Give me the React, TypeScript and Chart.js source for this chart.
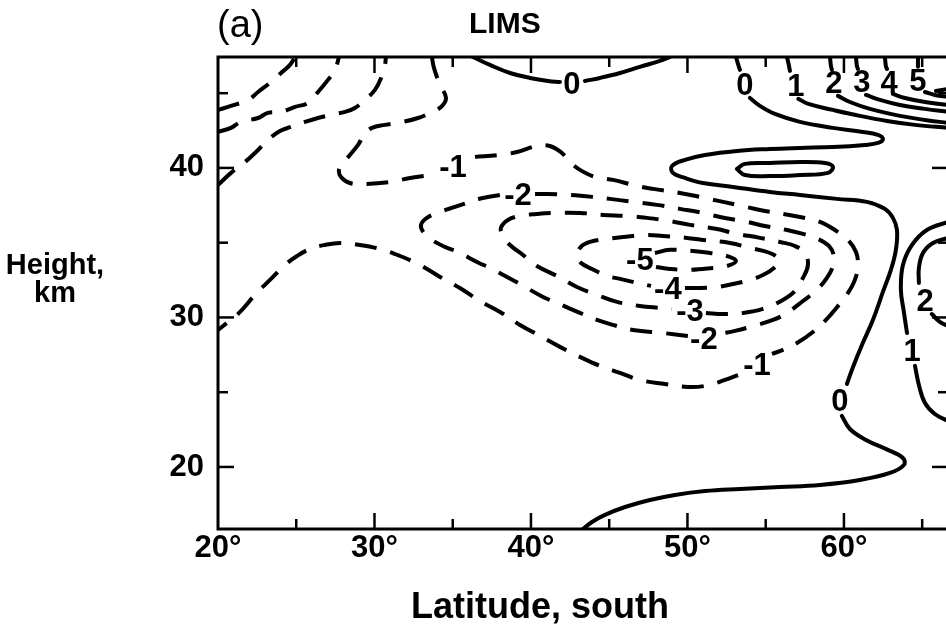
import React, { useEffect, useRef } from "react";
import { Chart, registerables } from "chart.js";

Chart.register(...registerables);

type Pt = [number, number];

const FONT = '"Liberation Sans", Arial, Helvetica, sans-serif';

// Axis extents: latitude (°S) and height (km)
const LAT_MIN = 20;
const LAT_MAX = 66.65;
const KM_MIN = 15.85;
const KM_MAX = 47.42;

const LAT_TICKS = [20, 30, 40, 50, 60];
const LAT_MINOR = [25, 35, 45, 55, 65];
const KM_TICKS = [20, 30, 40];
const KM_MINOR = [25, 35, 45];

// ---- negative isopleths (dashed) ----
const negUpperA: Pt[] = [[20.0, 43.88], [20.83, 44.15], [21.92, 44.55], [22.56, 45.08], [23.39, 45.75], [24.03, 46.35], [24.6, 46.89], [24.92, 47.42]];
const negUpperB: Pt[] = [[20.0, 42.41], [20.83, 42.68], [21.47, 43.08], [22.56, 43.34], [23.19, 43.68], [24.03, 43.75], [24.92, 44.08], [25.75, 44.35], [26.39, 45.08], [27.03, 45.89], [27.48, 46.56], [27.73, 47.42]];
const negUpperC: Pt[] = [[20.0, 38.86], [20.83, 39.67], [21.73, 40.4], [22.56, 41.2], [23.19, 41.87], [23.96, 42.47], [24.66, 42.74], [25.56, 43.08], [26.39, 43.34], [27.22, 43.55], [28.12, 43.75], [28.75, 44.01], [29.39, 44.55], [30.03, 45.22], [30.42, 46.02], [30.67, 46.89], [30.73, 47.42]];

const minus1Top: Pt[] = [[33.67, 47.42], [33.8, 46.69], [34.19, 45.55], [34.57, 44.68], [34.25, 44.08], [33.55, 43.68], [32.78, 43.34], [31.82, 43.08], [30.67, 42.88], [29.84, 42.68], [29.33, 42.21], [28.95, 41.54], [28.43, 40.87], [27.99, 40.33], [27.73, 39.87], [27.86, 39.4], [28.43, 38.99], [29.39, 38.93], [30.99, 39.06], [32.27, 39.33], [33.67, 39.53]];
const minus1Mid: Pt[] = [[36.42, 40.74], [38.02, 40.87], [39.11, 41.07], [40.38, 41.47], [41.21, 41.47], [41.98, 41.0], [42.49, 40.4], [43.13, 39.87], [44.09, 39.4], [45.24, 39.2], [46.77, 38.8], [47.8, 38.6], [49.52, 38.33], [50.8, 38.06], [53.16, 37.53], [54.63, 37.19], [57.19, 36.72], [58.47, 36.39], [59.42, 35.85], [60.26, 35.18], [60.77, 34.38], [60.89, 33.44], [60.7, 32.51], [60.26, 31.64], [59.62, 30.77], [58.85, 29.83], [58.02, 29.03], [57.0, 28.29], [56.1, 27.83], [55.4, 27.56]];
const minus1Low: Pt[] = [[53.23, 26.15], [52.4, 25.82], [51.12, 25.42], [50.03, 25.35], [48.56, 25.55], [46.96, 25.82], [45.69, 26.29], [44.41, 26.76], [43.13, 27.36], [41.85, 28.03], [40.58, 28.76], [39.3, 29.5], [38.02, 30.37], [36.74, 31.1], [35.46, 31.97], [34.19, 32.71], [32.91, 33.51], [31.63, 34.11], [30.35, 34.58], [29.07, 34.85], [27.8, 34.98], [26.84, 34.85], [25.88, 34.58], [25.05, 34.11], [24.28, 33.51], [23.32, 32.51], [22.36, 31.51], [21.41, 30.37], [20.64, 29.7], [20.0, 29.16]];

const minus2East: Pt[] = [[40.26, 38.26], [41.02, 38.26], [42.49, 38.19], [43.96, 38.06], [45.05, 37.93], [46.52, 37.73], [48.05, 37.53], [49.52, 37.26], [50.99, 36.99], [52.08, 36.72], [53.8, 36.39], [54.95, 36.12], [56.36, 35.85], [57.38, 35.59], [58.34, 35.25], [59.04, 34.78], [59.36, 34.11], [59.3, 33.44], [58.91, 32.64], [58.27, 31.84], [57.38, 31.1], [56.36, 30.3], [55.46, 29.83], [53.99, 29.36], [53.04, 29.1], [52.08, 28.9]];
const minus2West: Pt[] = [[50.03, 28.76], [48.43, 28.96], [46.52, 29.16], [45.24, 29.5], [44.22, 29.83], [43.13, 30.3], [41.66, 30.97], [40.77, 31.37], [39.3, 32.24], [38.47, 32.71], [37.38, 33.31], [36.55, 33.71], [35.34, 34.38], [34.5, 34.72], [33.67, 35.18], [33.16, 35.65], [32.97, 36.19], [33.35, 36.66], [34.19, 37.06], [35.14, 37.39], [36.1, 37.73], [36.93, 37.99], [38.02, 38.19]];

const minus3Ring: Pt[] = [[51.18, 30.3], [52.27, 30.23], [53.55, 30.3], [54.82, 30.57], [56.1, 31.17], [56.87, 31.77], [57.38, 32.64], [57.7, 33.51], [57.51, 34.31], [56.87, 34.78], [55.91, 35.05], [54.63, 35.32], [52.91, 35.65], [51.89, 35.92], [50.16, 36.19], [48.88, 36.45], [47.41, 36.66], [46.13, 36.79], [44.6, 36.86], [43.13, 36.99], [41.41, 36.99], [40.38, 36.92], [39.3, 36.79], [38.53, 36.52], [38.08, 35.99], [38.21, 35.45], [38.66, 34.85], [39.49, 34.18], [40.38, 33.44], [41.66, 32.78], [42.94, 32.04], [44.22, 31.51], [45.5, 31.04], [46.96, 30.77], [48.24, 30.64], [49.01, 30.57]];
const minus4Ring: Pt[] = [[49.84, 31.97], [50.8, 31.97], [51.89, 32.04], [52.91, 32.24], [53.99, 32.51], [54.82, 32.84], [55.53, 33.31], [55.85, 33.85], [55.27, 34.31], [53.99, 34.65], [52.72, 34.98], [50.99, 35.18], [49.97, 35.32], [48.43, 35.45], [47.41, 35.52], [45.88, 35.38], [44.86, 35.25], [43.77, 35.05], [43.19, 34.72], [42.94, 34.11], [43.19, 33.65], [43.9, 33.24], [44.86, 32.78], [45.69, 32.58], [46.77, 32.31], [47.67, 32.11]];
const minus5Ring: Pt[] = [[47.92, 34.31], [48.88, 34.52], [50.35, 34.45], [51.44, 34.31], [52.52, 34.11], [53.1, 33.78], [52.52, 33.44], [51.63, 33.31], [50.16, 33.18], [48.88, 33.24], [47.99, 33.38]];

// ---- zero and positive isopleths (solid) ----
const zeroArcWest: Pt[] = [[36.29, 47.42], [37.38, 46.89], [38.66, 46.35], [39.94, 46.02], [41.09, 45.82], [41.85, 45.75]];
const zeroArcEast: Pt[] = [[43.45, 45.82], [44.41, 46.02], [45.69, 46.35], [46.96, 46.76], [48.24, 47.16], [48.88, 47.42]];

const zeroMainTop: Pt[] = [[53.1, 47.42], [53.23, 46.96], [53.35, 46.56]];
const zeroMainMid: Pt[] = [[53.99, 44.68], [54.63, 44.15], [55.59, 43.61], [57.19, 43.08], [59.3, 42.68], [61.21, 42.41], [62.17, 42.21], [62.49, 41.94], [62.17, 41.67], [61.34, 41.54], [59.3, 41.4], [57.19, 41.34], [55.27, 41.27], [53.16, 41.14], [51.12, 40.87], [49.84, 40.54], [49.01, 40.13], [49.07, 39.67], [49.84, 39.33], [50.99, 38.99], [52.91, 38.73], [55.27, 38.39], [57.19, 38.19], [59.55, 37.93], [61.47, 37.73], [62.62, 37.26], [63.13, 36.66], [63.39, 35.85], [63.32, 34.52], [63.0, 33.18], [62.49, 31.71], [61.85, 29.83], [61.15, 28.16], [60.58, 26.69], [60.19, 25.55]];
const zeroMainLow: Pt[] = [[59.87, 23.41], [60.38, 22.54], [61.41, 21.81], [62.81, 21.14], [63.77, 20.6], [63.83, 20.13], [62.94, 19.6], [61.02, 19.13], [58.47, 18.8], [55.91, 18.66], [53.35, 18.53], [51.12, 18.39], [49.2, 18.13], [47.6, 17.79], [46.01, 17.32], [44.73, 16.79], [43.9, 16.32], [43.26, 15.79]];

const zeroLoop: Pt[] = [[53.16, 39.93], [53.67, 40.27], [55.27, 40.33], [57.19, 40.4], [58.79, 40.33], [59.3, 40.07], [58.98, 39.67], [57.19, 39.53], [55.27, 39.46], [53.67, 39.53], [53.16, 39.93]];

const plus1Top: Pt[] = [[56.36, 47.42], [56.49, 46.82], [56.55, 46.49]];
const plus1Run: Pt[] = [[57.09, 44.62], [57.73, 44.28], [59.3, 43.88], [61.02, 43.48], [62.75, 43.14], [64.54, 42.88], [66.65, 42.68]];
const plus2Top: Pt[] = [[59.11, 47.42], [59.17, 46.82], [59.23, 46.56]];
const plus2Run: Pt[] = [[59.62, 44.82], [60.38, 44.41], [61.66, 43.95], [63.58, 43.48], [65.18, 43.21], [66.65, 43.01]];
const plus3Top: Pt[] = [[60.77, 47.42], [60.83, 46.82], [60.89, 46.62]];
const plus3Run: Pt[] = [[61.41, 44.88], [62.3, 44.55], [63.58, 44.21], [65.18, 43.95], [66.65, 43.75]];
const plus4Top: Pt[] = [[62.62, 47.42], [62.68, 46.82], [62.75, 46.62]];
const plus4Run: Pt[] = [[63.13, 44.95], [63.9, 44.68], [65.18, 44.41], [66.65, 44.21]];
const plus5Top: Pt[] = [[64.73, 47.42], [64.73, 46.76]];
const plus5Run: Pt[] = [[65.18, 45.08], [65.81, 44.88], [66.65, 44.75]];
const plus6Run: Pt[] = [[65.88, 45.15], [66.65, 45.28]];

const plus1LowA: Pt[] = [[66.65, 36.39], [65.3, 35.85], [64.35, 34.85], [63.77, 33.51], [63.64, 31.84], [63.83, 30.37], [64.03, 28.96]];
const plus1LowB: Pt[] = [[64.54, 26.76], [64.79, 25.48], [65.18, 24.28], [65.81, 23.54], [66.65, 23.08]];
const plus2LowA: Pt[] = [[66.65, 35.32], [65.69, 34.98], [65.05, 34.31], [64.79, 33.31], [64.79, 32.31]];
const plus2LowB: Pt[] = [[65.62, 30.23], [66.13, 29.7], [66.65, 29.43]];

const DASHED: Pt[][] = [negUpperA, negUpperB, negUpperC, minus1Top, minus1Mid, minus1Low, minus2East, minus2West, minus3Ring, minus4Ring, minus5Ring];
const SOLID: Pt[][] = [zeroArcWest, zeroArcEast, zeroMainTop, zeroMainMid, zeroMainLow, zeroLoop, plus1Top, plus1Run, plus2Top, plus2Run, plus3Top, plus3Run, plus4Top, plus4Run, plus5Top, plus5Run, plus6Run, plus1LowA, plus1LowB, plus2LowA, plus2LowB];

// Isopleth labels: value, latitude, height
const LABEL_TEXT = ["0", "0", "1", "2", "3", "4", "5", "-1", "-2", "-5", "-4", "-3", "-2", "-1", "0", "2", "1"];
const LABEL_LAT = [42.62, 53.67, 56.93, 59.36, 61.15, 62.88, 64.73, 35.02, 39.17, 46.96, 48.75, 50.16, 51.05, 54.44, 59.74, 65.18, 64.35];
const LABEL_KM = [45.69, 45.62, 45.55, 45.75, 45.82, 45.75, 45.89, 40.13, 38.26, 33.91, 31.97, 30.5, 28.63, 26.89, 24.48, 31.17, 27.83];

const MAJOR_LEN = 16;
const MINOR_LEN = 10;

const frameAndTicks = {
  id: "frameAndTicks",
  afterDatasetsDraw(chart: any) {
    const { ctx, chartArea: a, scales } = chart;
    const x = scales.x;
    const y = scales.y;
    ctx.save();
    ctx.strokeStyle = "#000";
    ctx.lineWidth = 3;
    ctx.strokeRect(a.left, a.top, a.right - a.left, a.bottom - a.top);
    ctx.lineWidth = 2.5;
    const seg = (x1: number, y1: number, x2: number, y2: number) => {
      ctx.beginPath();
      ctx.moveTo(x1, y1);
      ctx.lineTo(x2, y2);
      ctx.stroke();
    };
    const vTicks = (vals: number[], len: number) => {
      for (const v of vals) {
        if (v <= LAT_MIN || v >= LAT_MAX) continue;
        const px = x.getPixelForValue(v);
        seg(px, a.bottom, px, a.bottom - len);
        seg(px, a.top, px, a.top + len);
      }
    };
    const hTicks = (vals: number[], len: number) => {
      for (const v of vals) {
        const py = y.getPixelForValue(v);
        seg(a.left, py, a.left + len, py);
        seg(a.right, py, a.right - len, py);
      }
    };
    vTicks(LAT_TICKS, MAJOR_LEN);
    vTicks(LAT_MINOR, MINOR_LEN);
    hTicks(KM_TICKS, MAJOR_LEN);
    hTicks(KM_MINOR, MINOR_LEN);
    ctx.restore();
  },
};

const isoplethLabels = {
  id: "isoplethLabels",
  afterDatasetsDraw(chart: any) {
    const { ctx, scales } = chart;
    ctx.save();
    ctx.fillStyle = "#000";
    ctx.font = `bold 31px ${FONT}`;
    ctx.textAlign = "center";
    ctx.textBaseline = "alphabetic";
    LABEL_TEXT.forEach((t, i) => {
      const px = scales.x.getPixelForValue(LABEL_LAT[i]);
      const py = scales.y.getPixelForValue(LABEL_KM[i]);
      ctx.fillText(t, px, py + 11);
    });
    ctx.restore();
  },
};

const captions = {
  id: "captions",
  afterDraw(chart: any) {
    const { ctx } = chart;
    ctx.save();
    ctx.fillStyle = "#000";
    ctx.textBaseline = "alphabetic";
    ctx.textAlign = "left";
    ctx.font = `38px ${FONT}`;
    ctx.fillText("(a)", 217, 37);
    ctx.font = `bold 30px ${FONT}`;
    ctx.fillText("LIMS", 469, 33);
    ctx.textAlign = "center";
    ctx.font = `bold 29px ${FONT}`;
    ctx.fillText("Height,", 55, 274);
    ctx.fillText("km", 55, 302);
    ctx.font = `bold 36px ${FONT}`;
    ctx.fillText("Latitude, south", 540, 618);
    ctx.restore();
  },
};

export default function App() {
  const ref = useRef<HTMLCanvasElement>(null);

  useEffect(() => {
    const canvas = ref.current;
    if (!canvas) return;
    const toData = (pts: Pt[]) => pts.map(([lat, km]) => ({ x: lat, y: km }));
    const datasets = [
      ...DASHED.map((pts) => ({
        data: toData(pts),
        showLine: true,
        borderColor: "#000",
        borderWidth: 4,
        borderDash: [22, 14],
        borderCapStyle: "butt" as const,
        borderJoinStyle: "round" as const,
        pointRadius: 0,
        tension: 0.4,
        fill: false,
      })),
      ...SOLID.map((pts) => ({
        data: toData(pts),
        showLine: true,
        borderColor: "#000",
        borderWidth: 4,
        borderCapStyle: "round" as const,
        borderJoinStyle: "round" as const,
        pointRadius: 0,
        tension: 0.4,
        fill: false,
      })),
    ];

    const chart = new Chart(canvas, {
      type: "scatter",
      data: { datasets },
      options: {
        animation: false,
        responsive: false,
        devicePixelRatio: 1,
        events: [],
        layout: { padding: { top: 57, right: 12, left: 0, bottom: 0 } },
        plugins: { legend: { display: false }, tooltip: { enabled: false } },
        scales: {
          x: {
            type: "linear",
            min: LAT_MIN,
            max: LAT_MAX,
            grid: { display: false, drawTicks: false },
            border: { display: false },
            afterBuildTicks: (s: any) => {
              s.ticks = LAT_TICKS.map((v) => ({ value: v }));
            },
            afterFit: (s: any) => {
              s.height = 103;
            },
            ticks: {
              color: "#000",
              padding: 1,
              maxRotation: 0,
              font: { family: FONT, size: 31, weight: "bold" },
              callback: (v: any) => `${v}°`,
            },
          },
          y: {
            type: "linear",
            min: KM_MIN,
            max: KM_MAX,
            grid: { display: false, drawTicks: false },
            border: { display: false },
            afterBuildTicks: (s: any) => {
              s.ticks = KM_TICKS.map((v) => ({ value: v }));
            },
            afterFit: (s: any) => {
              s.width = 218;
            },
            ticks: {
              color: "#000",
              padding: 14,
              font: { family: FONT, size: 31, weight: "bold" },
            },
          },
        },
      },
      plugins: [frameAndTicks, isoplethLabels, captions],
    });
    return () => chart.destroy();
  }, []);

  return (
    <div
      style={{
        position: "fixed",
        left: 0,
        top: 0,
        width: 946,
        height: 632,
        overflow: "hidden",
        background: "#fff",
      }}
    >
      <canvas ref={ref} width={960} height={632} style={{ display: "block", width: 960, height: 632 }} />
    </div>
  );
}
